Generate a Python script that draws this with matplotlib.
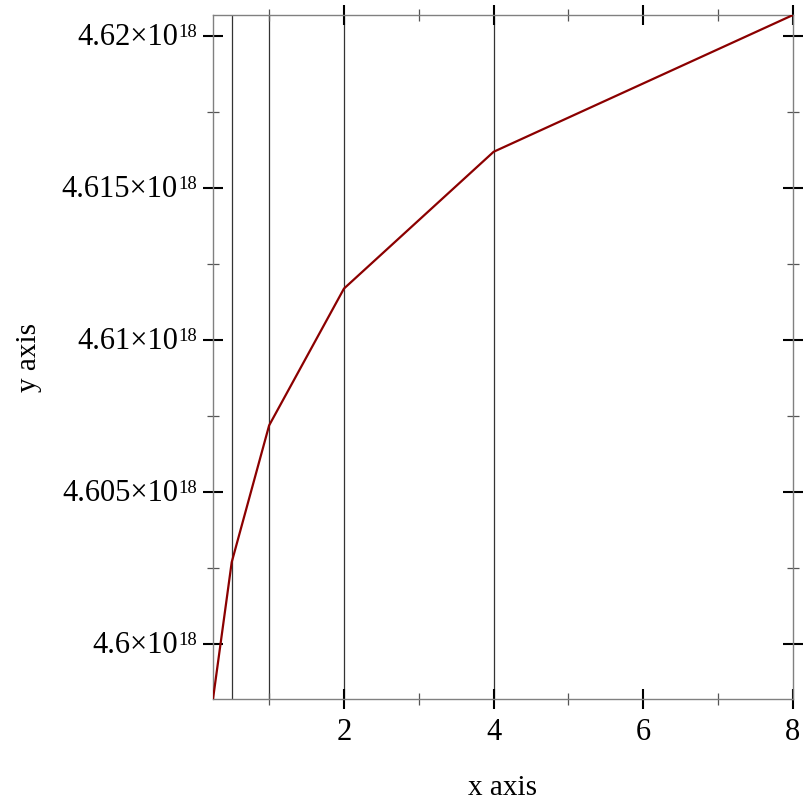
import numpy as np
import matplotlib
matplotlib.use("Agg")
import matplotlib.pyplot as plt
from matplotlib.ticker import FixedLocator, FuncFormatter, NullFormatter

plt.rcParams['font.family'] = ['Liberation Serif', 'DejaVu Serif']

# datos
x_vals = [0.25, 0.5, 1, 2, 4, 8]
y_vals = [4.598174e18, 4.602678e18, 4.607182e18, 4.611686e18, 4.616190e18, 4.620693e18]
vlines_x = [0.5, 1, 2, 4]
x_major = [2, 4, 6, 8]
x_minor = [1, 3, 5, 7]
y_major = [4.600e18, 4.605e18, 4.610e18, 4.615e18, 4.620e18]
y_minor = [4.6025e18, 4.6075e18, 4.6125e18, 4.6175e18]
y_exp = 18

fig = plt.figure(figsize=(8.12, 8.12), dpi=100)
ax = fig.add_axes([213 / 812, 1 - 700 / 812, 580 / 812, 684 / 812])

for xv in vlines_x:
    ax.axvline(xv, color='#333333', lw=0.9, zorder=1)

ax.plot(x_vals, y_vals, color='#8b0000', lw=1.6, zorder=3)

ax.set_xlim(x_vals[0], x_vals[-1])
ax.set_ylim(y_vals[0], y_vals[-1])

ax.xaxis.set_major_locator(FixedLocator(x_major))
ax.xaxis.set_minor_locator(FixedLocator(x_minor))
ax.yaxis.set_major_locator(FixedLocator(y_major))
ax.yaxis.set_minor_locator(FixedLocator(y_minor))
ax.yaxis.set_major_formatter(NullFormatter())
ax.xaxis.set_major_formatter(FuncFormatter(lambda v, p: '%d' % v))

# etiquetas del eje y: mantisa x 10 con exponente en superindice
for v in y_major:
    mant = ('%.3f' % (v / 10 ** y_exp)).rstrip('0')
    ax.annotate(mant + '\u00d710', xy=(0, v), xycoords=('axes fraction', 'data'),
                xytext=(-35, -8), textcoords='offset pixels',
                ha='right', va='baseline', fontsize=22)
    ax.annotate(str(y_exp), xy=(0, v), xycoords=('axes fraction', 'data'),
                xytext=(-35, 0), textcoords='offset pixels',
                ha='left', va='baseline', fontsize=13.5)

for sp in ax.spines.values():
    sp.set_color('#808080')
    sp.set_linewidth(1.0)

ax.tick_params(which='major', direction='inout', length=14.5, width=1.5, color='black',
               labelsize=22, pad=6, top=True, right=True)
ax.tick_params(which='minor', direction='inout', length=8.5, width=0.9, color='#555555',
               top=True, right=True)

ax.set_xlabel('x axis', fontsize=21, va='baseline')
ax.xaxis.set_label_coords(0.5, -95 / 684)
ax.set_ylabel('y axis', fontsize=21, va='baseline')
ax.yaxis.set_label_coords(-177 / 580, 0.5)

fig.savefig('out.png', dpi=100)
